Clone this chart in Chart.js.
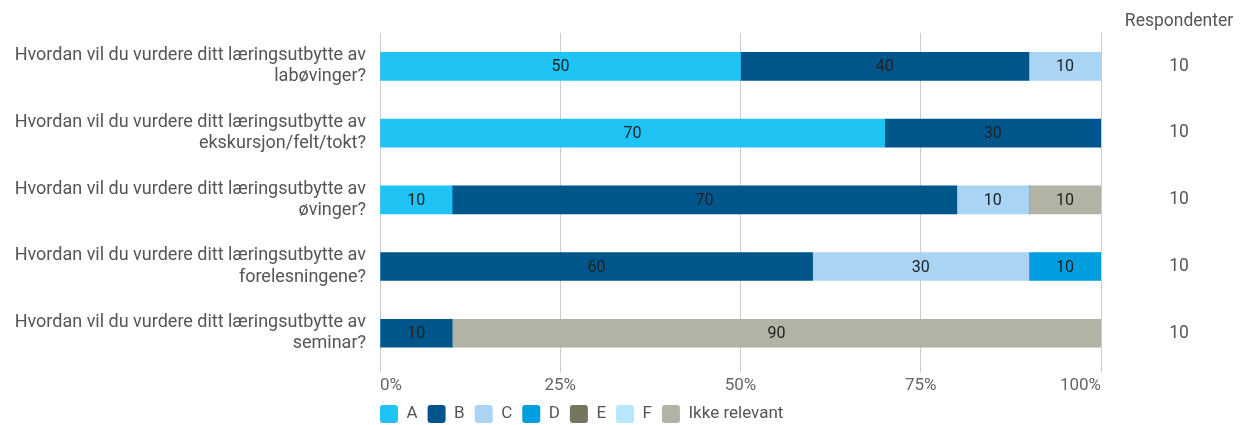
<!DOCTYPE html>
<html>
<head>
<meta charset="utf-8">
<script src="https://cdn.jsdelivr.net/npm/chart.js@4/dist/chart.umd.min.js"></script>
<style>
  html, body { margin: 0; padding: 0; background: #fff; }
  #wrap { width: 1247px; height: 425px; }
</style>
</head>
<body>
<div id="wrap"><canvas id="c" width="1247" height="425"></canvas></div>
<script>
// questions (y categories), split over two lines like the original
const questions = [
  ['Hvordan vil du vurdere ditt læringsutbytte av', 'labøvinger?'],
  ['Hvordan vil du vurdere ditt læringsutbytte av', 'ekskursjon/felt/tokt?'],
  ['Hvordan vil du vurdere ditt læringsutbytte av', 'øvinger?'],
  ['Hvordan vil du vurdere ditt læringsutbytte av', 'forelesningene?'],
  ['Hvordan vil du vurdere ditt læringsutbytte av', 'seminar?']
];
const respondents = [10, 10, 10, 10, 10];

// percentages per answer
const gradeA = [50, 70, 10, 0, 0];
const gradeB = [40, 30, 70, 60, 10];
const gradeC = [10, 0, 10, 30, 0];
const gradeD = [0, 0, 0, 10, 0];
const gradeE = [0, 0, 0, 0, 0];
const gradeF = [0, 0, 0, 0, 0];
const notRelevant = [0, 0, 10, 0, 90];

const xTicks = [0, 25, 50, 75, 100];

const series = [
  { label: 'A', data: gradeA, color: '#20c4f4' },
  { label: 'B', data: gradeB, color: '#00568a' },
  { label: 'C', data: gradeC, color: '#a9d4f4' },
  { label: 'D', data: gradeD, color: '#009ede' },
  { label: 'E', data: gradeE, color: '#767560' },
  { label: 'F', data: gradeF, color: '#b8e6fa' },
  { label: 'Ikke relevant', data: notRelevant, color: '#b2b2a5' }
];

// values in the middle of each bar segment
const barValues = {
  id: 'barValues',
  afterDatasetsDraw(chart) {
    const ctx = chart.ctx;
    ctx.save();
    ctx.font = '16px Roboto, sans-serif';
    ctx.fillStyle = '#222';
    ctx.textAlign = 'center';
    ctx.textBaseline = 'middle';
    chart.data.datasets.forEach((ds, i) => {
      chart.getDatasetMeta(i).data.forEach((bar, j) => {
        const v = ds.data[j];
        if (!v) return;
        const p = bar.getProps(['x', 'y', 'base'], true);
        ctx.fillText(String(v), (p.x + p.base) / 2, p.y + 1);
      });
    });
    ctx.restore();
  }
};

// "Respondenter" column at the right
const respondentColumn = {
  id: 'respondentColumn',
  afterDraw(chart) {
    const ctx = chart.ctx;
    const y = chart.scales.y;
    const x = chart.chartArea.right + 78;
    ctx.save();
    ctx.font = '17.5px Roboto, sans-serif';
    ctx.fillStyle = '#555';
    ctx.textAlign = 'center';
    ctx.textBaseline = 'middle';
    ctx.fillText('Respondenter', x, 22);
    respondents.forEach((n, i) => {
      ctx.fillText(String(n), x, y.getPixelForValue(i));
    });
    ctx.restore();
  }
};

// line the legend up with the left edge of the plot, nudge it up a bit
const legendShift = {
  id: 'legendShift',
  afterLayout(chart) {
    const lg = chart.legend;
    const w = lg.width;
    lg.left = chart.chartArea.left - lg.options.labels.padding;
    lg.right = lg.left + w;
    lg.top -= 4;
    lg.bottom -= 4;
  }
};

new Chart(document.getElementById('c'), {
  type: 'bar',
  data: {
    labels: questions,
    datasets: series.map(s => ({
      label: s.label,
      data: s.data,
      backgroundColor: s.color,
      borderWidth: 0,
      barThickness: 28
    }))
  },
  options: {
    indexAxis: 'y',
    responsive: false,
    animation: false,
    layout: { padding: { top: 33, right: 146, left: 0, bottom: -12 } },
    scales: {
      x: {
        stacked: true,
        min: 0,
        max: 100,
        afterBuildTicks(scale) { scale.ticks = xTicks.map(v => ({ value: v })); },
        grid: { color: '#cccccc', tickLength: 6, drawTicks: true },
        border: { display: false },
        ticks: {
          align: 'inner',
          padding: 3,
          color: '#666',
          font: { family: 'Roboto', size: 17 },
          callback: v => v + '%'
        }
      },
      y: {
        stacked: true,
        afterFit(scale) { scale.width = 380; },
        grid: { display: false },
        border: { display: false },
        ticks: {
          padding: 6,
          color: '#555',
          font: { family: 'Roboto', size: 18, lineHeight: 1.17 }
        }
      }
    },
    plugins: {
      legend: {
        position: 'bottom',
        align: 'start',
        labels: {
          boxWidth: 18,
          boxHeight: 18,
          useBorderRadius: true,
          borderRadius: 3,
          padding: 10,
          color: '#555',
          font: { family: 'Roboto', size: 17 }
        }
      },
      tooltip: { enabled: false }
    }
  },
  plugins: [barValues, respondentColumn, legendShift]
});
</script>
</body>
</html>
